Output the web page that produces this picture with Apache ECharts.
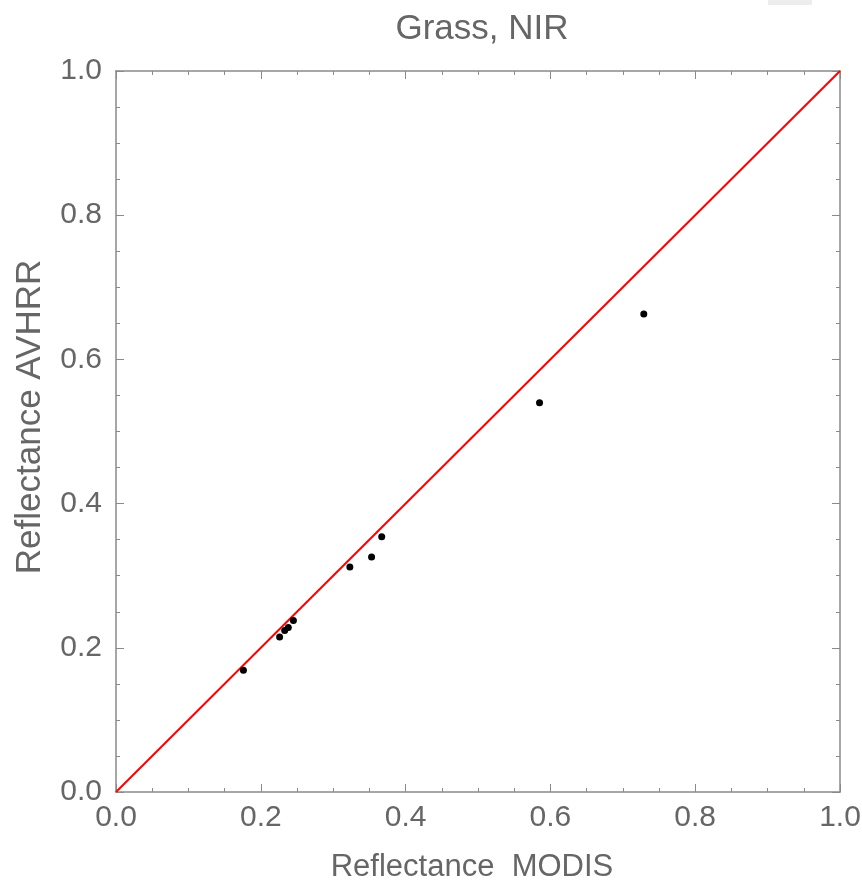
<!DOCTYPE html>
<html><head><meta charset="utf-8">
<script src="https://cdn.jsdelivr.net/npm/echarts@6/dist/echarts.min.js"></script>
<style>html,body{margin:0;padding:0;background:#fff;overflow:hidden}#c{width:862px;height:882px}</style>
</head><body><div id="c"></div>
<script>
const modis = [0.176, 0.226, 0.233, 0.238, 0.245, 0.323, 0.353, 0.367, 0.585, 0.729];
const avhrr = [0.169, 0.215, 0.224, 0.228, 0.238, 0.312, 0.326, 0.354, 0.540, 0.663];
const lineX = [0, 1];
const lineY = [0, 1];
const tickLabels = ['0.0', '0.2', '0.4', '0.6', '0.8', '1.0'];

const font = '"Liberation Sans", Arial, sans-serif';
const axisColor = '#8a8a8a';
const textColor = '#666';

function axisBase(extra) {
  return Object.assign({
    min: 0, max: 1, interval: 0.2,
    axisLine: {show: true, onZero: false, lineStyle: {color: axisColor, width: 1.5}},
    axisTick: {show: true, inside: true, length: 8, lineStyle: {color: axisColor, width: 1}},
    minorTick: {show: true, splitNumber: 4, length: 4, lineStyle: {color: axisColor, width: 1}},
    splitLine: {show: false},
    axisLabel: {show: false}
  }, extra);
}
const labelStyle = {show: true, color: textColor, fontSize: 30, fontFamily: font,
  formatter: v => tickLabels[Math.round(v / 0.2)] };

const chart = echarts.init(document.getElementById('c'), null, {renderer: 'canvas', width: 862, height: 882});
chart.setOption({
  animation: false,
  title: {text: 'Grass, NIR', left: 477, top: 7, textAlign: 'center',
    textStyle: {color: textColor, fontSize: 35, fontWeight: 'normal', fontFamily: font}},
  grid: {left: 116, right: 22, top: 71, bottom: 90, containLabel: false, outerBoundsMode: 'none'},
  graphic: [
    {type: 'rect', shape: {x: 768, y: 0, width: 44, height: 5}, style: {fill: '#ededed'}},
    {type: 'text', x: 30, y: 417, rotation: Math.PI / 2,
      style: {text: 'Reflectance AVHRR', fill: textColor, fontSize: 35, fontFamily: font,
        align: 'center', verticalAlign: 'middle'}}
  ],
  xAxis: [
    axisBase({type: 'value', position: 'bottom', axisLabel: Object.assign({margin: 11}, labelStyle),
      name: 'Reflectance  MODIS', nameLocation: 'middle', nameGap: 60,
      nameTextStyle: {color: textColor, fontSize: 31, fontFamily: font, padding: [0, 12, 0, 0]}}),
    axisBase({type: 'value', position: 'top'})
  ],
  yAxis: [
    axisBase({type: 'value', position: 'left', axisLabel: Object.assign({margin: 14}, labelStyle)}),
    axisBase({type: 'value', position: 'right'})
  ],
  series: [
    {type: 'line', data: lineX.map((x, i) => [x, lineY[i]]), showSymbol: false, symbol: 'none',
      lineStyle: {color: '#f00', width: 2}, z: 2},
    {type: 'scatter', data: modis.map((x, i) => [x, avhrr[i]]), symbolSize: 7,
      itemStyle: {color: '#000', opacity: 1}, z: 3}
  ]
});
</script></body></html>
